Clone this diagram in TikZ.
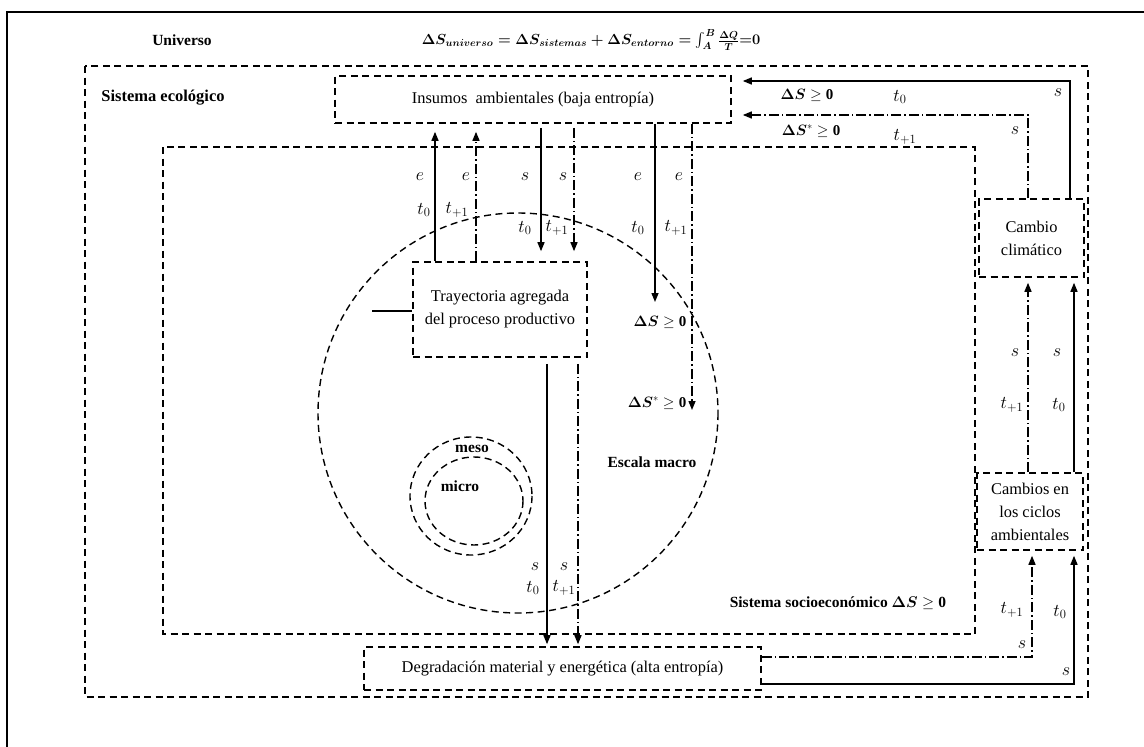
\RequirePackage{fix-cm}
\documentclass[tikz,border=0pt]{standalone}
\usepackage{amsmath}
\usepackage{bm}
\usepackage{fontspec}
\setmainfont{Liberation Serif}
\usetikzlibrary{arrows.meta}
\newsavebox{\EqBox}
\newsavebox{\DSBox}
\newsavebox{\DSSBox}
\newsavebox{\DSBoldBox}
\begin{document}
\sbox{\EqBox}{\fontsize{14.6}{18}\selectfont\boldmath$\Delta S_{universo}=\Delta S_{sistemas}+\Delta S_{entorno}=\int_{A}^{B}\frac{\Delta Q}{T}{=}0$}
\sbox{\DSBox}{\fontsize{15}{18}\selectfont$\bm{\Delta S}\geq\mathbf{0}$}
\sbox{\DSSBox}{\fontsize{15}{18}\selectfont$\bm{\Delta S}^{*}\geq\mathbf{0}$}
\sbox{\DSBoldBox}{\fontsize{15.5}{18}\selectfont\bfseries Sistema socioeconómico $\bm{\Delta S}\geq\mathbf{0}$}
\begin{tikzpicture}[x=1pt,y=-1pt,
  every node/.style={inner sep=0pt},
  lbl/.style={font=\fontsize{18}{20}\selectfont},
  btxt/.style={font=\fontsize{15.5}{18}\selectfont\bfseries},
  box/.style={draw, line width=1.6pt, dash pattern=on 7pt off 4.5pt, align=center, font=\fontsize{16.4}{23}\selectfont},
  frame/.style={line width=1.6pt, dash pattern=on 7pt off 4.5pt},
  arr/.style={line width=1.4pt, -{Triangle[length=9pt,width=7pt]}},
  dd/.style={dash pattern=on 10pt off 3pt on 1.5pt off 3pt}]
\useasboundingbox (0,0) rectangle (1144,747);
\fill[white] (0,0) rectangle (1144,747);
\draw[line width=2pt] (7,747) -- (7,12) -- (1144,12);

\node[btxt] (univ) at (182,40) {Universo};
\node (equ) at (591,40) {\usebox{\EqBox}};

\draw[frame] (85,66) rectangle (1088,697);
\node[btxt, font=\fontsize{16.5}{18}\selectfont\bfseries] (eco) at (163,98) {Sistema ecológico};
\draw[frame] (163,147) rectangle (975,634);

% circles
\draw[frame, line width=1.4pt] (518,413) circle[radius=200];
\draw[frame, line width=1.4pt] (471,496) ellipse[x radius=61, y radius=59];
\draw[frame, line width=1.4pt] (474,501) ellipse[x radius=49, y radius=44];
\node[btxt] (meso) at (472,449) {meso};
\node[btxt] (micro) at (460,486) {micro};
\node[btxt] (macro) at (652,462) {Escala macro};
\node (socio) at (838,603) {\usebox{\DSBoldBox}};

% boxes
\node[box, minimum width=396pt, minimum height=47pt] (ins) at (533,99.5) {Insumos~ ambientales (baja entropía)};
\node[box, minimum width=174pt, minimum height=95pt] (tra) at (500,309.5) {Trayectoria agregada\\del proceso productivo};
\node[box, minimum width=397pt, minimum height=43pt] (deg) at (562.5,668.5) {Degradación material y energética (alta entropía)};
\node[box, minimum width=105pt, minimum height=78pt] (cl) at (1031.5,238) {Cambio\\climático};
\node[box, minimum width=106pt, minimum height=77pt] (cc) at (1030,511.5) {Cambios en\\los ciclos\\ambientales};

% helper coordinates
\coordinate (xa) at (435,0); \coordinate (xb) at (476,0);
\coordinate (xc) at (541,0); \coordinate (xd) at (574,0);
\coordinate (xe) at (655,0); \coordinate (xf) at (692,0);
\coordinate (xg) at (547,0); \coordinate (xh) at (578,0);
\coordinate (xi) at (1028,0); \coordinate (xj) at (1070,0);
\coordinate (xk) at (1032,0); \coordinate (xl) at (1074,0);
\coordinate (ya) at (0,81); \coordinate (yb) at (0,115);
\coordinate (yc) at (0,657); \coordinate (yd) at (0,684);
\coordinate (ds1) at (655,302); \coordinate (ds2) at (692,410);
\coordinate (sl) at (372,311);

% connectors
\draw[arr, shorten >=8pt] (tra.north -| xa) -- (ins.south -| xa);
\draw[arr, dd, shorten >=8pt] (tra.north -| xb) -- (ins.south -| xb);
\draw[arr, shorten <=4pt, shorten >=10pt] (ins.south -| xc) -- (tra.north -| xc);
\draw[arr, dd, shorten <=4pt, shorten >=10pt] (ins.south -| xd) -- (tra.north -| xd);
\draw[arr] (ins.south -| xe) -- (ds1);
\draw[arr, dd] (ins.south -| xf) -- (ds2);
\draw[arr, shorten <=6pt, shorten >=2pt] (tra.south -| xg) -- (deg.north -| xg);
\draw[arr, dd, shorten <=6pt, shorten >=2pt] (tra.south -| xh) -- (deg.north -| xh);
\draw[line width=1.4pt] (sl) -- (tra.west |- sl);

\draw[arr, shorten >=11pt] (cl.north -| xj) |- (ins.east |- ya);
\draw[arr, dd, shorten >=11pt] (cl.north -| xi) |- (ins.east |- yb);
\draw[arr, dd, shorten >=5pt] (cc.north -| xi) -- (cl.south -| xi);
\draw[arr, shorten >=5pt] (cc.north -| xl) -- (cl.south -| xl);
\draw[arr, dd, shorten >=5pt] (deg.east |- yc) -| (cc.south -| xk);
\draw[arr, shorten >=5pt] (deg.east |- yd) -| (cc.south -| xl);

% labels
\node[lbl] (e1) at (420,177) {$e$};
\node[lbl] (e2) at (466,177) {$e$};
\node[lbl] (e3) at (638,177) {$e$};
\node[lbl] (e4) at (679,177) {$e$};
\node[lbl] (s1) at (525,177) {$s$};
\node[lbl] (s2) at (563,177) {$s$};
\node[lbl] (t1) at (424,210) {$t_0$};
\node[lbl] (t2) at (457,210) {$t_{+1}$};
\node[lbl] (t3) at (525,228) {$t_0$};
\node[lbl] (t4) at (557,228) {$t_{+1}$};
\node[lbl] (t5) at (638,228) {$t_0$};
\node[lbl] (t6) at (676,228) {$t_{+1}$};
\node (d1) at (660,322) {\usebox{\DSBox}};
\node (d2) at (657,403) {\usebox{\DSSBox}};
\node[lbl] (s3) at (535,567) {$s$};
\node[lbl] (s4) at (564,567) {$s$};
\node[lbl] (t7) at (533,588) {$t_0$};
\node[lbl] (t8) at (564,588) {$t_{+1}$};

\node (d3) at (807,95) {\usebox{\DSBox}};
\node[lbl] (t9) at (900,97) {$t_0$};
\node[lbl] (s5) at (1058,93) {$s$};
\node (d4) at (811,131) {\usebox{\DSSBox}};
\node[lbl] (t10) at (905,137) {$t_{+1}$};
\node[lbl] (s6) at (1015,131) {$s$};

\node[lbl] (s7) at (1015,353) {$s$};
\node[lbl] (s8) at (1057,353) {$s$};
\node[lbl] (t11) at (1012,405) {$t_{+1}$};
\node[lbl] (t12) at (1059,405) {$t_0$};

\node[lbl] (t13) at (1012,610) {$t_{+1}$};
\node[lbl] (t14) at (1060,612) {$t_0$};
\node[lbl] (s9) at (1022,645) {$s$};
\node[lbl] (s10) at (1066,672) {$s$};
\end{tikzpicture}
\end{document}
